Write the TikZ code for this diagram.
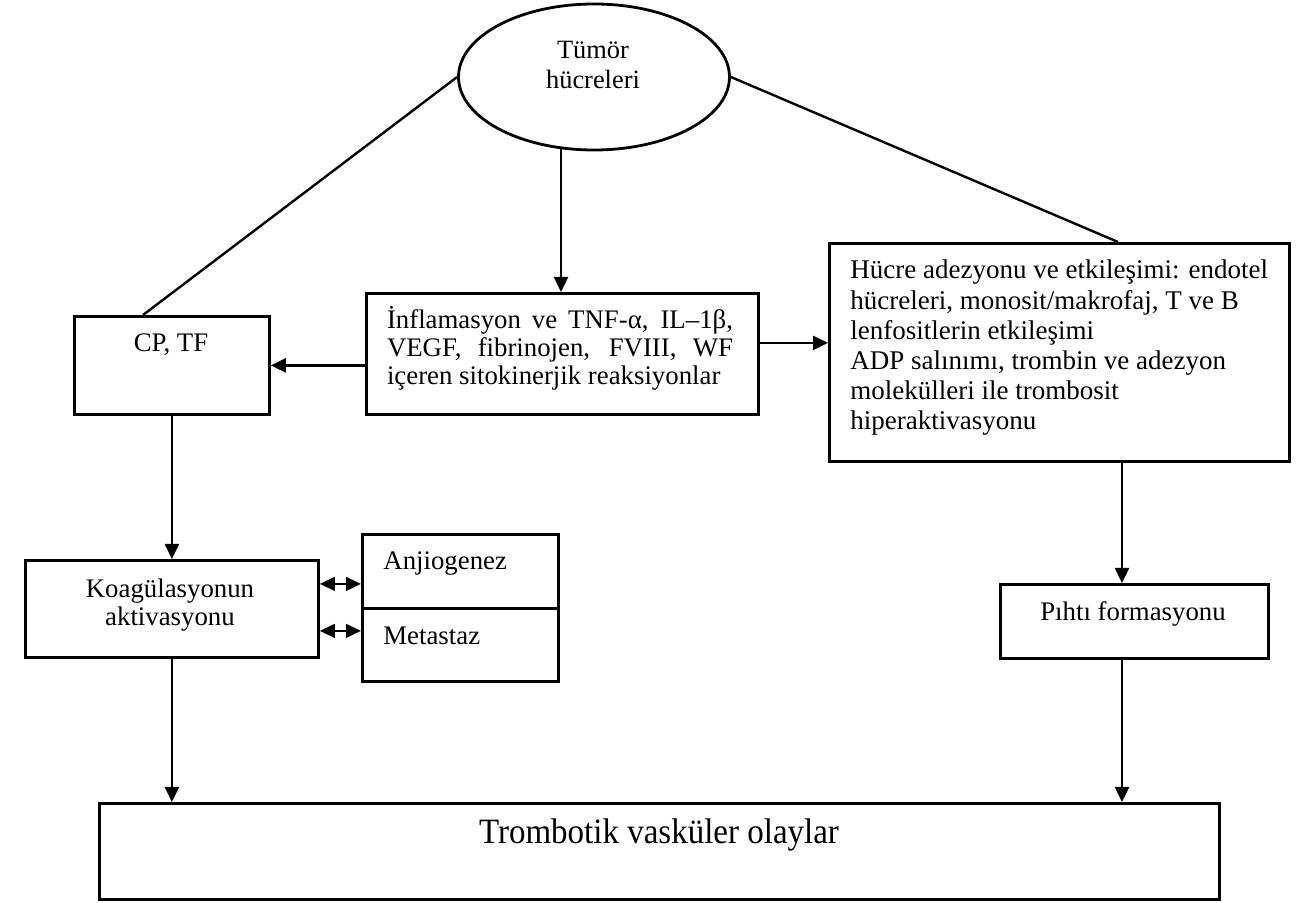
\documentclass[tikz,border=0pt]{standalone}
\usepackage{fontspec}
\setmainfont{Liberation Serif}
\usetikzlibrary{arrows.meta,calc,shapes.geometric}
\begin{document}
\begin{tikzpicture}[x=0.5pt,y=-0.5pt,
  box/.style={draw,line width=1.4pt,inner sep=0,anchor=north west},
  txt/.style={inner sep=0,font=\fontsize{13.4}{14}\selectfont},
  conn/.style={line width=1.2pt},
  arr/.style={conn,-{Triangle[length=7.5pt,width=7pt]}},
  darr/.style={conn,{Triangle[length=7.5pt,width=6.8pt]}-{Triangle[length=7.5pt,width=6.8pt]}}]
\useasboundingbox (0,0) rectangle (1303,903);

% boxes
\node[draw,line width=1.4pt,ellipse,inner sep=0,minimum width=135.5pt,minimum height=73pt] (tumor) at (594,77) {};
\node[box,minimum width=97.5pt,minimum height=49pt] (cp) at (73,315) {};
\node[box,minimum width=196pt,minimum height=60.5pt] (infl) at (365,292) {};
\node[box,minimum width=230pt,minimum height=109pt] (adh) at (828,242) {};
\node[box,minimum width=146.5pt,minimum height=48.5pt] (koag) at (24,559) {};
\node[box,minimum width=98pt,minimum height=37pt] (anj) at (361,533) {};
\node[box,minimum width=98pt,minimum height=36.5pt] (meta) at (361,607) {};
\node[box,minimum width=134pt,minimum height=37pt] (pihti) at (999,583) {};
\node[box,minimum width=560pt,minimum height=48pt] (bott) at (98,802) {};

% texts
\node[txt,align=center,font=\fontsize{13.2}{15}\selectfont] (tumtxt) at (593,65) {Tümör\\hücreleri};
\node[txt] (cptxt) at (171,345) {CP, TF};
\node[txt,align=left] (infltxt) at (560,348) {\makebox[173pt][s]{İnflamasyon ve TNF-α, IL–1β,}\\\makebox[173pt][s]{VEGF, fibrinojen, FVIII, WF}\\içeren sitokinerjik reaksiyonlar};
\node[txt,align=left,anchor=west,font=\fontsize{13.5}{15.1}\selectfont] (adhtxt) at (850,348) {Hücre adezyonu ve etkileşimi: endotel\\hücreleri, monosit/makrofaj, T ve B\\lenfositlerin etkileşimi\\ADP salınımı, trombin ve adezyon\\molekülleri ile trombosit\\hiperaktivasyonu};
\node[txt,align=center] (koagtxt) at (170,605) {Koagülasyonun\\aktivasyonu};
\node[txt,anchor=west] (anjtxt) at (383,564) {Anjiogenez};
\node[txt,anchor=west] (metatxt) at (383,636) {Metastaz};
\node[txt] (pihtitxt) at (1133,614) {Pıhtı formasyonu};
\node[txt,font=\fontsize{16.5}{18}\selectfont] (botttxt) at (659,835) {\scalebox{1}[1.08]{Trombotik vasküler olaylar}};

% connectors
\coordinate (cptop) at ($(cp.north west)+(70,0)$);
\coordinate (adhtop) at ($(adh.north west)+(290,0)$);
\coordinate (vtop) at ($(infl.north west)+(196,0)$);
\coordinate (inflout) at ($(infl.east)+(0,-11)$);
\coordinate (pdown) at ($(pihti.north west)+(123,0)$);
\coordinate (ka) at ($(koag.east)+(0,-25)$);
\coordinate (km) at ($(koag.east)+(0,22)$);

\draw[conn] (tumor.west) -- (cptop);
\draw[conn] (tumor.east) -- (adhtop);
\draw[arr] (vtop |- tumor.245) -- (vtop);
\draw[arr] (inflout) -- (adh.west |- inflout);
\draw[arr] (infl.west |- cp.east) -- (cp.east);
\draw[arr] (cp.south) -- (cp.south |- koag.north);
\draw[darr] (ka) -- (anj.west |- ka);
\draw[darr] (km) -- (meta.west |- km);
\draw[arr] (koag.south) -- (koag.south |- bott.north);
\draw[arr] (pdown |- adh.south) -- (pdown);
\draw[arr] (pihti.south -| pdown) -- (pdown |- bott.north);
\end{tikzpicture}
\end{document}
